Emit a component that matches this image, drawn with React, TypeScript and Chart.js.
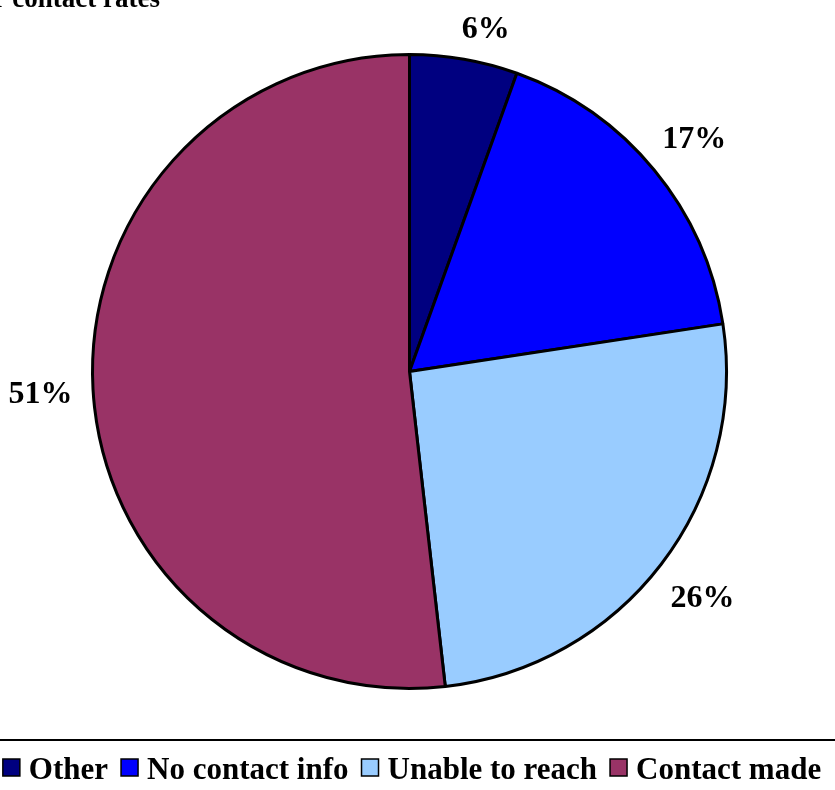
import React, { useEffect, useRef } from "react";
import { Chart, registerables } from "chart.js";

Chart.register(...registerables);

const categories = ["Other", "No contact info", "Unable to reach", "Contact made"];
const shares = [5.5, 17.1, 25.6, 51.8];
const shareLabels = ["6%", "17%", "26%", "51%"];
const sliceColors = ["#000080", "#0000FF", "#99CCFF", "#993366"];
const titleText = "for contact rates";

const FONT = '"Liberation Serif", "Times New Roman", serif';

const overlayPlugin = {
  id: "overlay",
  afterDraw(chart: any) {
    const ctx = chart.ctx as CanvasRenderingContext2D;
    const W = chart.width;
    ctx.save();

    // Title (clipped at top)
    ctx.fillStyle = "#000";
    ctx.font = `bold 27px ${FONT}`;
    ctx.textAlign = "right";
    ctx.textBaseline = "alphabetic";
    ctx.fillText(titleText, 160, 7);

    // Percentage labels outside the slices
    const meta = chart.getDatasetMeta(0);
    ctx.font = `bold 32px ${FONT}`;
    ctx.textAlign = "center";
    const labelH = 22;
    const gap = 20;
    meta.data.forEach((arc: any, i: number) => {
      const p = arc.getProps(["x", "y", "startAngle", "endAngle", "outerRadius"], true);
      let mid = (p.startAngle + p.endAngle) / 2;
      if (i === 0) mid += 0.045;
      const dx = Math.cos(mid);
      const dy = Math.sin(mid);
      const txt = shareLabels[i];
      const w = ctx.measureText(txt).width;
      const support = Math.abs(dx) * w / 2 + Math.abs(dy) * labelH / 2;
      const d = p.outerRadius + gap + support;
      const cx = p.x + dx * d;
      const cy = p.y + dy * d;
      ctx.fillText(txt, cx, cy + labelH / 2);
    });

    // Legend border top line
    ctx.strokeStyle = "#000";
    ctx.lineWidth = 2;
    ctx.beginPath();
    ctx.moveTo(0, 740);
    ctx.lineTo(W, 740);
    ctx.stroke();

    // Legend
    const labels: string[] = chart.data.labels;
    const colors: string[] = chart.data.datasets[0].backgroundColor;
    ctx.font = `bold 31px ${FONT}`;
    ctx.textAlign = "left";
    const box = 17;
    const boxGap = 9;
    const itemGap = 13;
    const widths = labels.map((l) => ctx.measureText(l).width);
    const total =
      widths.reduce((a, b) => a + b, 0) + labels.length * (box + boxGap) + (labels.length - 1) * itemGap;
    let x = 412 - total / 2;
    const baseY = 779;
    labels.forEach((l, i) => {
      ctx.fillStyle = colors[i];
      ctx.fillRect(x, 759, box, box);
      ctx.lineWidth = 1.5;
      ctx.strokeStyle = "#000";
      ctx.strokeRect(x, 759, box, box);
      x += box + boxGap;
      ctx.fillStyle = "#000";
      ctx.fillText(l, x, baseY);
      x += widths[i] + itemGap;
    });

    ctx.restore();
  },
};

export default function App() {
  const ref = useRef<HTMLCanvasElement | null>(null);
  useEffect(() => {
    if (!ref.current) return;
    const chart = new Chart(ref.current, {
      type: "pie",
      data: {
        labels: categories,
        datasets: [
          {
            data: shares,
            backgroundColor: sliceColors,
            borderColor: "#000",
            borderWidth: 3,
          },
        ],
      },
      options: {
        animation: false,
        responsive: true,
        maintainAspectRatio: false,
        layout: { padding: { left: 91, right: 107, top: 53, bottom: 100 } },
        plugins: {
          legend: { display: false },
          tooltip: { enabled: false },
          title: { display: false },
        },
      },
      plugins: [overlayPlugin],
    });
    return () => chart.destroy();
  }, []);
  return (
    <div style={{ position: "fixed", left: 0, top: 0, width: 835, height: 790, background: "#fff" }}>
      <canvas ref={ref} />
    </div>
  );
}
